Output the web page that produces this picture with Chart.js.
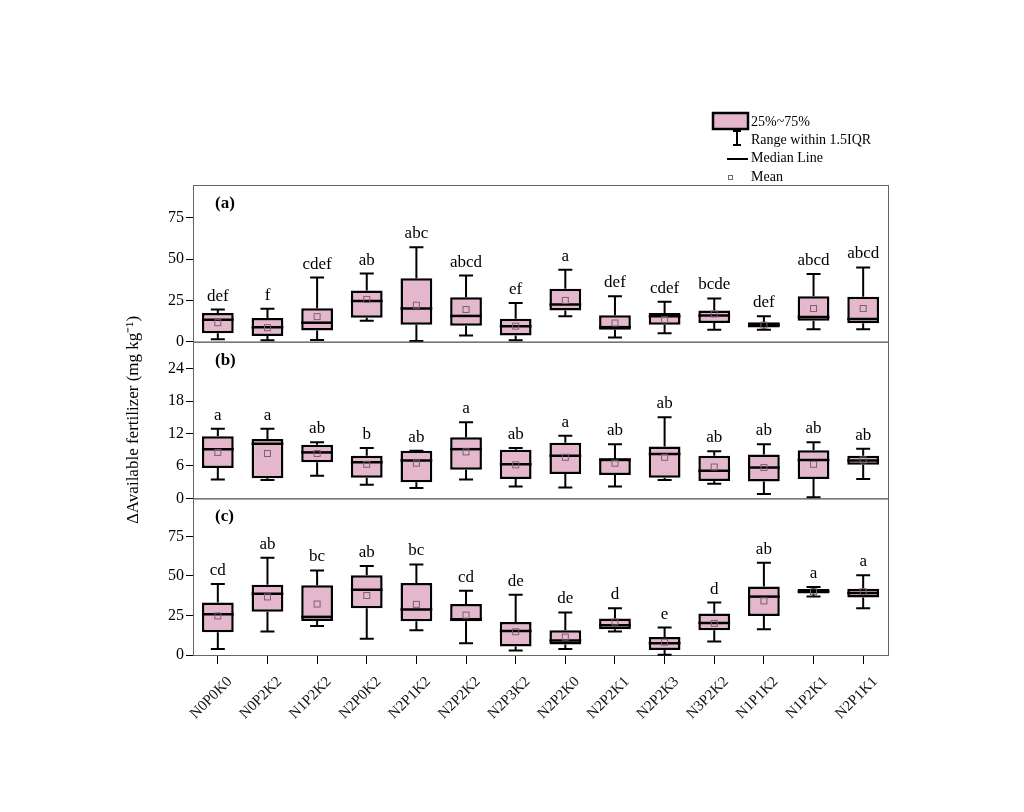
<!DOCTYPE html>
<html>
<head>
<meta charset="utf-8">
<script src="https://cdn.jsdelivr.net/npm/chart.js@4.4.0/dist/chart.umd.min.js"></script>
<style>
  html, body { margin: 0; padding: 0; background: #fff; }
</style>
</head>
<body>
<canvas id="box" width="1024" height="812"></canvas>
<script>
const treatments = ['N0P0K0', 'N0P2K2', 'N1P2K2', 'N2P0K2', 'N2P1K2', 'N2P2K2', 'N2P3K2',
  'N2P2K0', 'N2P2K1', 'N2P2K3', 'N3P2K2', 'N1P1K2', 'N1P2K1', 'N2P1K1'];

// panel (a)
const lowA  = [1.4, 0.8, 1.0, 12.7, 0.4, 3.7, 0.8, 15.4, 2.5, 5.1, 7.2, 7.2, 7.6, 7.6];
const q1A   = [5.1, 3.5, 6.8, 14.5, 10.2, 9.6, 3.7, 18.9, 7.2, 10.2, 11.3, 8.6, 12.7, 11.1];
const medA  = [13.3, 8.8, 11.5, 24.6, 20.1, 15.6, 9.4, 22.5, 8.8, 15.4, 15.8, 10.2, 14.9, 13.7];
const q3A   = [17.4, 14.3, 20.3, 31.1, 38.5, 27.0, 13.9, 32.1, 16.0, 17.4, 18.9, 11.7, 27.6, 27.2];
const highA = [19.5, 19.9, 38.9, 41.3, 57.3, 40.1, 23.5, 43.6, 27.6, 24.2, 26.2, 15.4, 41.0, 45.0];
const meanA = [11.5, 8.5, 15.2, 25.6, 22.1, 19.5, 9.4, 25.0, 11.3, 13.3, 16.8, 10.0, 20.1, 20.1];
const lettersA = ['def', 'f', 'cdef', 'ab', 'abc', 'abcd', 'ef', 'a', 'def', 'cdef', 'bcde', 'def', 'abcd', 'abcd'];

// panel (b)
const lowB  = [3.5, 3.4, 4.2, 2.5, 1.9, 3.5, 2.2, 2.0, 2.2, 3.4, 2.7, 0.8, 0.2, 3.6];
const q1B   = [5.6, 3.7, 6.7, 3.8, 3.0, 5.3, 3.6, 4.5, 4.3, 3.8, 3.2, 3.1, 3.6, 6.2];
const medB  = [9.1, 10.1, 8.5, 6.7, 7.0, 9.1, 6.3, 7.9, 7.2, 8.2, 5.1, 5.7, 7.1, 7.0];
const q3B   = [11.5, 11.0, 9.9, 7.9, 8.8, 11.3, 9.0, 10.3, 7.3, 9.6, 7.9, 8.1, 8.9, 7.9];
const highB = [12.9, 12.9, 10.4, 9.3, 8.8, 14.1, 9.3, 11.6, 10.0, 15.0, 8.7, 10.0, 10.4, 9.2];
const meanB = [8.5, 8.3, 8.3, 6.3, 6.5, 8.6, 6.2, 7.6, 6.5, 7.6, 5.8, 5.7, 6.3, 7.1];
const lettersB = ['a', 'a', 'ab', 'b', 'ab', 'a', 'ab', 'a', 'ab', 'ab', 'ab', 'ab', 'ab', 'ab'];

// panel (c)
const lowC  = [3.8, 14.9, 18.3, 10.3, 15.6, 7.4, 2.8, 3.8, 14.9, 0.2, 8.5, 16.2, 36.9, 29.5];
const q1C   = [14.3, 27.3, 21.5, 29.5, 21.3, 21.3, 5.3, 6.6, 16.2, 3.2, 15.6, 24.7, 38.8, 36.3];
const medC  = [25.8, 38.7, 24.1, 41.2, 28.8, 22.6, 15.1, 9.2, 18.8, 7.4, 20.3, 36.9, 40.1, 39.1];
const q3C   = [33.1, 44.4, 44.0, 50.4, 45.5, 32.2, 20.9, 15.6, 23.1, 11.3, 26.3, 43.3, 41.7, 41.9];
const highC = [44.9, 61.5, 53.4, 56.2, 57.2, 40.6, 38.0, 26.9, 29.5, 17.3, 33.1, 58.3, 42.9, 50.4];
const meanC = [24.7, 36.7, 32.2, 37.6, 32.0, 25.2, 14.7, 11.3, 20.9, 8.1, 20.0, 34.2, 40.0, 40.0];
const lettersC = ['cd', 'ab', 'bc', 'ab', 'bc', 'cd', 'de', 'de', 'd', 'e', 'd', 'ab', 'a', 'a'];

const panels = [
  { id: 'ya', tag: '(a)', max: 95, step: 25, low: lowA, q1: q1A, med: medA, q3: q3A, high: highA, mean: meanA, letters: lettersA },
  { id: 'yb', tag: '(b)', max: 29, step: 6, low: lowB, q1: q1B, med: medB, q3: q3B, high: highB, mean: meanB, letters: lettersB },
  { id: 'yc', tag: '(c)', max: 99, step: 25, low: lowC, q1: q1C, med: medC, q3: q3C, high: highC, mean: meanC, letters: lettersC }
];

const pink = '#e4b7cd';
const serif = 'Liberation Serif';

function yScale(p, weight) {
  const s = {
    type: 'linear',
    position: 'left',
    stack: 'panels',
    stackWeight: 1,
    weight: weight,
    min: 0,
    max: p.max,
    ticks: { stepSize: p.step, includeBounds: false, color: '#000', padding: 2, font: { family: serif, size: 16 } },
    grid: { drawOnChartArea: false, drawTicks: true, tickLength: 7, tickColor: '#000' },
    border: { display: true, color: '#000', width: 1 },
    afterFit: sc => { sc.width = 70; }
  };
  if (p.id === 'yb') {
    s.title = { display: true, text: 'ΔAvailable fertilizer (mg kg⁻¹)', color: '#000', padding: 0, font: { family: serif, size: 17 } };
  }
  return s;
}

const boxParts = {
  id: 'boxParts',
  afterDatasetsDraw(chart) {
    const ctx = chart.ctx;
    const area = chart.chartArea;
    ctx.save();
    panels.forEach((p, d) => {
      const ys = chart.scales[p.id];
      const meta = chart.getDatasetMeta(d);
      const y = v => ys.getPixelForValue(v);
      // panel frame
      ctx.strokeStyle = '#666';
      ctx.lineWidth = 1;
      ctx.strokeRect(area.left + 0.5, ys.top + 0.5, area.right - area.left, ys.bottom - ys.top);
      ctx.fillStyle = '#000';
      ctx.font = 'bold 17px ' + serif;
      ctx.textAlign = 'left';
      ctx.textBaseline = 'alphabetic';
      ctx.fillText(p.tag, area.left + 22, ys.top + 23);

      meta.data.forEach((bar, i) => {
        const x = bar.x, w = bar.width;
        ctx.strokeStyle = '#000';
        ctx.lineWidth = 2;
        ctx.beginPath();
        ctx.moveTo(x, y(p.q3[i])); ctx.lineTo(x, y(p.high[i]));
        ctx.moveTo(x - 7, y(p.high[i])); ctx.lineTo(x + 7, y(p.high[i]));
        ctx.moveTo(x, y(p.q1[i])); ctx.lineTo(x, y(p.low[i]));
        ctx.moveTo(x - 7, y(p.low[i])); ctx.lineTo(x + 7, y(p.low[i]));
        ctx.stroke();
        ctx.lineWidth = 2.5;
        ctx.beginPath();
        ctx.moveTo(x - w / 2, y(p.med[i])); ctx.lineTo(x + w / 2, y(p.med[i]));
        ctx.stroke();
        ctx.strokeStyle = '#7a6270';
        ctx.lineWidth = 1;
        ctx.strokeRect(x - 3, y(p.mean[i]) - 3, 6, 6);
        ctx.fillStyle = '#000';
        ctx.font = '17px ' + serif;
        ctx.textAlign = 'center';
        ctx.fillText(p.letters[i], x, y(p.high[i]) - 9);
      });
    });
    ctx.restore();
  },
  afterDraw(chart) {
    const ctx = chart.ctx;
    ctx.save();
    ctx.fillStyle = pink;
    ctx.fillRect(713, 113, 35, 16);
    ctx.strokeStyle = '#000';
    ctx.lineWidth = 2.5;
    ctx.strokeRect(713, 113, 35, 16);
    ctx.lineWidth = 2;
    ctx.beginPath();
    ctx.moveTo(737, 131); ctx.lineTo(737, 145);
    ctx.moveTo(733, 131); ctx.lineTo(741, 131);
    ctx.moveTo(733, 145); ctx.lineTo(741, 145);
    ctx.moveTo(727, 159); ctx.lineTo(748, 159);
    ctx.stroke();
    ctx.strokeStyle = '#7a6270';
    ctx.lineWidth = 1;
    ctx.strokeRect(728.5, 175.5, 4, 4);
    ctx.fillStyle = '#000';
    ctx.font = '14px ' + serif;
    ctx.textAlign = 'left';
    ctx.textBaseline = 'alphabetic';
    ctx.fillText('25%~75%', 751, 126);
    ctx.fillText('Range within 1.5IQR', 751, 144);
    ctx.fillText('Median Line', 751, 162);
    ctx.fillText('Mean', 751, 181);
    ctx.restore();
  }
};

const scales = {
  x: {
    type: 'category',
    position: 'bottom',
    offset: true,
    ticks: { minRotation: 45, maxRotation: 45, color: '#111', padding: 9, labelOffset: 12, autoSkip: false, font: { family: serif, size: 15 } },
    grid: { drawOnChartArea: false, drawTicks: true, tickLength: 9, tickColor: '#000', offset: false },
    border: { display: true, color: '#000' },
    afterFit: sc => { sc.height = 100; }
  }
};
panels.forEach((p, k) => { scales[p.id] = yScale(p, 3 - k); });

new Chart(document.getElementById('box'), {
  type: 'bar',
  data: {
    labels: treatments,
    datasets: panels.map(p => ({
      label: p.tag,
      data: p.q1.map((v, i) => [v, p.q3[i]]),
      yAxisID: p.id,
      grouped: false,
      backgroundColor: pink,
      borderColor: '#000',
      borderWidth: 2.5,
      borderSkipped: false,
      categoryPercentage: 1,
      barPercentage: 0.64
    }))
  },
  options: {
    responsive: false,
    animation: false,
    layout: { padding: { left: 123, right: 136, top: 185, bottom: 57 } },
    plugins: { legend: { display: false }, tooltip: { enabled: false } },
    scales: scales
  },
  plugins: [boxParts]
});
</script>
</body>
</html>
